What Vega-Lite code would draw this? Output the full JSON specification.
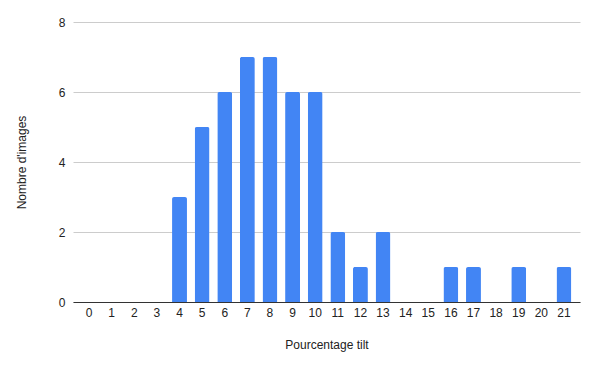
{
  "$schema": "https://vega.github.io/schema/vega-lite/v6.json",
  "autosize": {"type": "none"},
  "padding": {"left": 73, "top": 22, "right": 14, "bottom": 64},
  "width": 507,
  "height": 280,
  "background": "white",
  "config": {"view": {"stroke": null}, "font": "Liberation Sans"},
  "data": {"values": [
    {"p": "0", "n": 0}, {"p": "1", "n": 0}, {"p": "2", "n": 0}, {"p": "3", "n": 0},
    {"p": "4", "n": 3}, {"p": "5", "n": 5}, {"p": "6", "n": 6}, {"p": "7", "n": 7},
    {"p": "8", "n": 7}, {"p": "9", "n": 6}, {"p": "10", "n": 6}, {"p": "11", "n": 2},
    {"p": "12", "n": 1}, {"p": "13", "n": 2}, {"p": "14", "n": 0}, {"p": "15", "n": 0},
    {"p": "16", "n": 1}, {"p": "17", "n": 1}, {"p": "18", "n": 0}, {"p": "19", "n": 1},
    {"p": "20", "n": 0}, {"p": "21", "n": 1}
  ]},
  "mark": {"type": "bar", "color": "#4285F4", "cornerRadiusTopLeft": 2, "cornerRadiusTopRight": 2},
  "encoding": {
    "x": {
      "field": "p", "type": "ordinal", "sort": null,
      "scale": {"paddingInner": 0.34, "paddingOuter": 0.38},
      "axis": {
        "title": "Pourcentage tilt", "labelAngle": 0, "ticks": false,
        "domain": true, "domainColor": "#333333", "domainWidth": 1,
        "labelFont": "Liberation Sans", "labelFontSize": 12, "labelColor": "#222222",
        "labelPadding": 5, "titleFont": "Liberation Sans", "titleFontSize": 12,
        "titleFontWeight": "normal", "titleColor": "#222222", "titlePadding": 21
      }
    },
    "y": {
      "field": "n", "type": "quantitative",
      "scale": {"domain": [0, 8]},
      "axis": {
        "title": "Nombre d'images", "values": [0, 2, 4, 6, 8], "ticks": false,
        "domain": false, "gridColor": "#cccccc", "gridWidth": 1,
        "labelFont": "Liberation Sans", "labelFontSize": 12, "labelColor": "#222222",
        "labelPadding": 8, "titleFont": "Liberation Sans", "titleFontSize": 12,
        "titleFontWeight": "normal", "titleColor": "#222222", "titlePadding": 30
      }
    }
  }
}
